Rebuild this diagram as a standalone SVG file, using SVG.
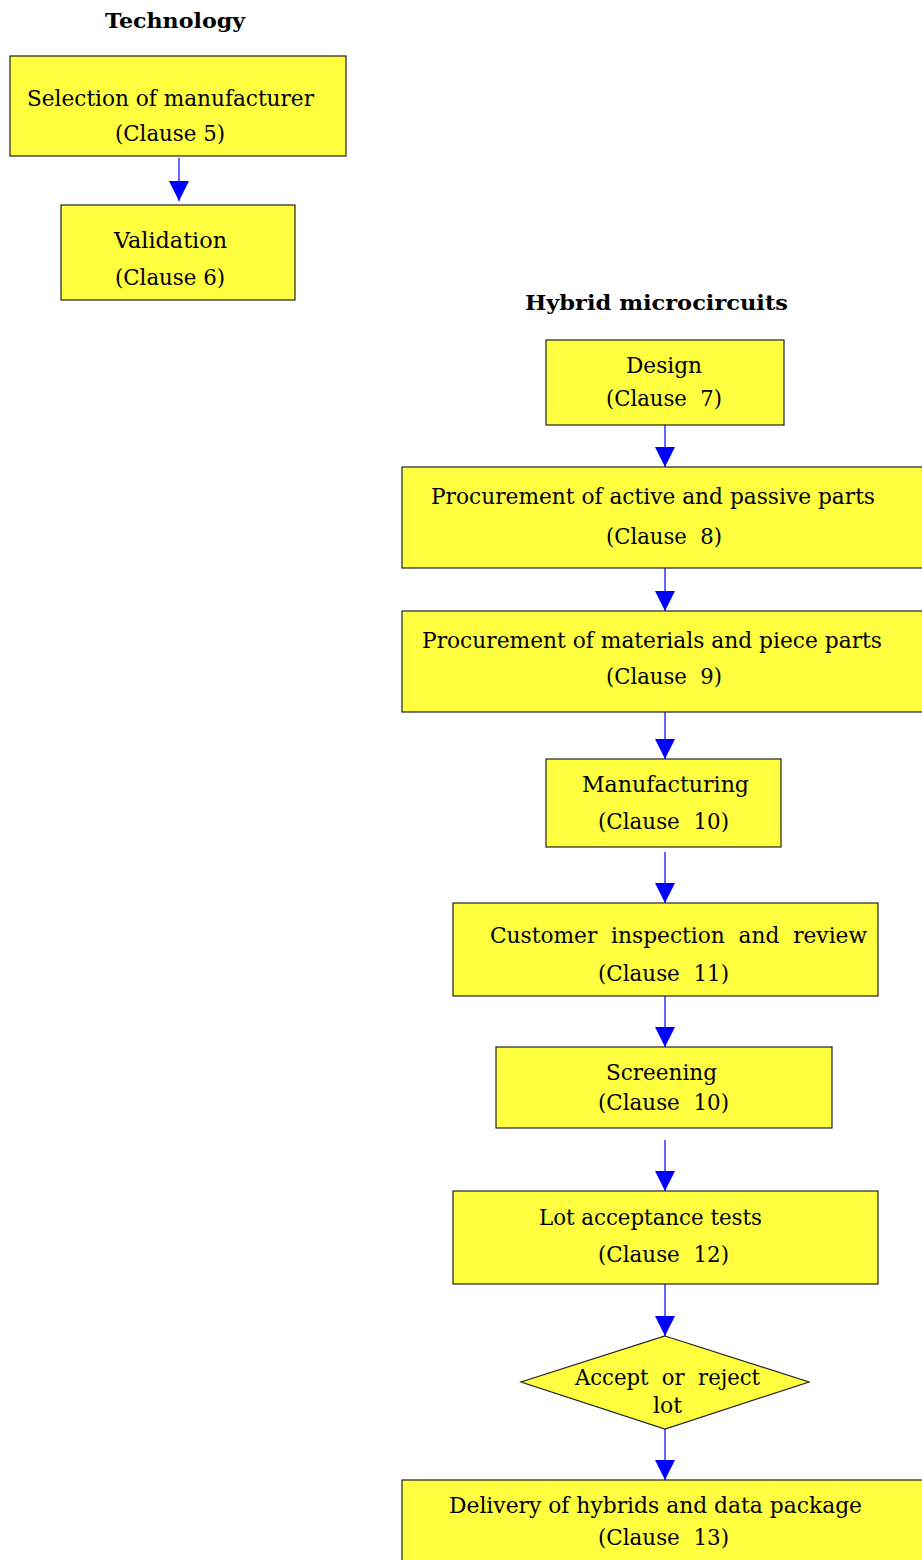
<svg xmlns="http://www.w3.org/2000/svg" width="922" height="1560" viewBox="0 0 922 1560">
<defs>
<marker id="ah" markerWidth="20" markerHeight="20" refX="20" refY="10" orient="auto" markerUnits="userSpaceOnUse">
<path d="M0,0 L20,10 L0,20 Z" fill="#0000ff"/>
</marker>
<style>
.box{fill:#ffff40;stroke:#222;stroke-width:1.2}
.t{font-family:"DejaVu Serif","Liberation Serif",serif;font-size:22px;fill:#000;white-space:pre}
.h{font-family:"DejaVu Serif","Liberation Serif",serif;font-size:21px;font-weight:bold;fill:#000}
.c{fill:none;stroke:#0000ff;stroke-width:1.2;marker-end:url(#ah)}
</style>
</defs>
<rect width="922" height="1560" fill="#fff"/>
<text class="h" x="105" y="28" textLength="140" lengthAdjust="spacingAndGlyphs">Technology</text>
<text class="h" x="525" y="310" textLength="263" lengthAdjust="spacingAndGlyphs">Hybrid microcircuits</text>
<g id="connectors">
<path class="c" d="M179,158 V201"/>
<path class="c" d="M665,425 V467"/>
<path class="c" d="M665,568 V611"/>
<path class="c" d="M665,712 V759"/>
<path class="c" d="M665,852 V903"/>
<path class="c" d="M665,996 V1047"/>
<path class="c" d="M665,1140 V1191"/>
<path class="c" d="M665,1284 V1336"/>
<path class="c" d="M665,1429 V1480"/>
</g>
<g id="n1">
<rect class="box" x="10" y="56" width="336" height="100"/>
<text class="t" x="27" y="106" textLength="287" lengthAdjust="spacingAndGlyphs">Selection of manufacturer</text>
<text class="t" x="115" y="141" textLength="110" lengthAdjust="spacingAndGlyphs">(Clause 5)</text>
</g>
<g id="n2">
<rect class="box" x="61" y="205" width="234" height="95"/>
<text class="t" x="114" y="248" textLength="113" lengthAdjust="spacingAndGlyphs">Validation</text>
<text class="t" x="115" y="285" textLength="110" lengthAdjust="spacingAndGlyphs">(Clause 6)</text>
</g>
<g id="n3">
<rect class="box" x="546" y="340" width="238" height="85"/>
<text class="t" x="626" y="373" textLength="76" lengthAdjust="spacingAndGlyphs">Design</text>
<text class="t" x="606" y="406" textLength="116" lengthAdjust="spacingAndGlyphs">(Clause  7)</text>
</g>
<g id="n4">
<rect class="box" x="402" y="467" width="522" height="101"/>
<text class="t" x="431" y="504" textLength="444" lengthAdjust="spacingAndGlyphs">Procurement of active and passive parts</text>
<text class="t" x="606" y="544" textLength="116" lengthAdjust="spacingAndGlyphs">(Clause  8)</text>
</g>
<g id="n5">
<rect class="box" x="402" y="611" width="522" height="101"/>
<text class="t" x="422" y="648" textLength="460" lengthAdjust="spacingAndGlyphs">Procurement of materials and piece parts</text>
<text class="t" x="606" y="684" textLength="116" lengthAdjust="spacingAndGlyphs">(Clause  9)</text>
</g>
<g id="n6">
<rect class="box" x="546" y="759" width="235" height="88"/>
<text class="t" x="582" y="792" textLength="167" lengthAdjust="spacingAndGlyphs">Manufacturing</text>
<text class="t" x="598" y="829" textLength="131" lengthAdjust="spacingAndGlyphs">(Clause  10)</text>
</g>
<g id="n7">
<rect class="box" x="453" y="903" width="425" height="93"/>
<text class="t" x="490" y="943" textLength="377" lengthAdjust="spacingAndGlyphs">Customer  inspection  and  review</text>
<text class="t" x="598" y="981" textLength="131" lengthAdjust="spacingAndGlyphs">(Clause  11)</text>
</g>
<g id="n8">
<rect class="box" x="496" y="1047" width="336" height="81"/>
<text class="t" x="606" y="1080" textLength="111" lengthAdjust="spacingAndGlyphs">Screening</text>
<text class="t" x="598" y="1110" textLength="131" lengthAdjust="spacingAndGlyphs">(Clause  10)</text>
</g>
<g id="n9">
<rect class="box" x="453" y="1191" width="425" height="93"/>
<text class="t" x="539" y="1225" textLength="223" lengthAdjust="spacingAndGlyphs">Lot acceptance tests</text>
<text class="t" x="598" y="1262" textLength="131" lengthAdjust="spacingAndGlyphs">(Clause  12)</text>
</g>
<g id="n10">
<polygon class="box" points="665,1336 809,1382 665,1429 521,1382"/>
<text class="t" x="575" y="1385" textLength="185" lengthAdjust="spacingAndGlyphs">Accept  or  reject</text>
<text class="t" x="653" y="1413" textLength="29" lengthAdjust="spacingAndGlyphs">lot</text>
</g>
<g id="n11">
<rect class="box" x="402" y="1480" width="522" height="90"/>
<text class="t" x="449" y="1513" textLength="413" lengthAdjust="spacingAndGlyphs">Delivery of hybrids and data package</text>
<text class="t" x="598" y="1545" textLength="131" lengthAdjust="spacingAndGlyphs">(Clause  13)</text>
</g>
</svg>
